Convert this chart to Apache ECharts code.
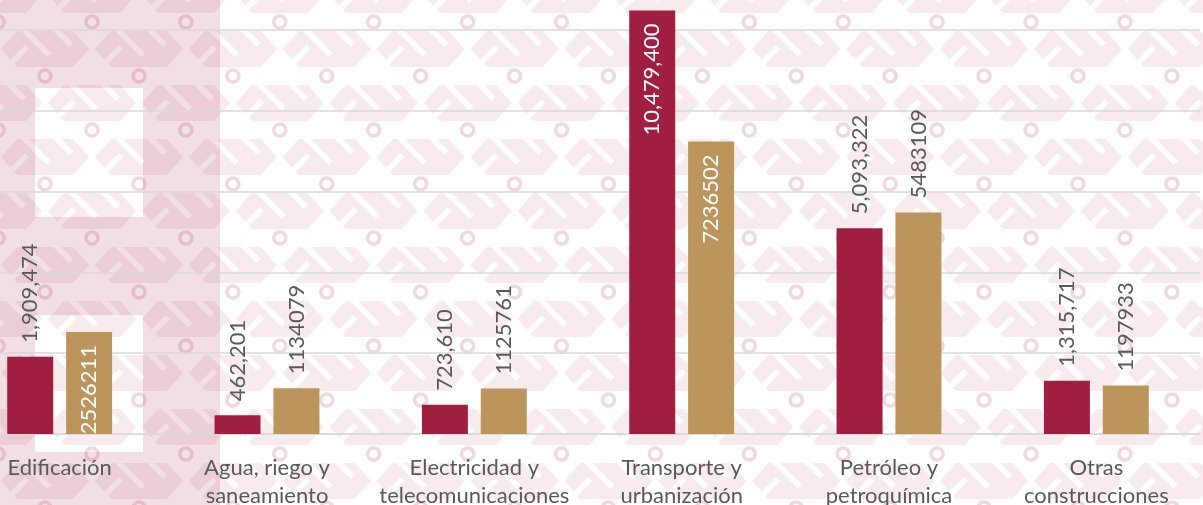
<!DOCTYPE html>
<html>
<head>
<meta charset="utf-8">
<script src="https://cdn.jsdelivr.net/npm/echarts@6/dist/echarts.min.js"></script>
<style>
  html, body { margin: 0; padding: 0; background: #fff; overflow: hidden; }
  #wrap { position: relative; width: 1203px; height: 505px; overflow: hidden; }
  #bg { position: absolute; left: 0; top: 0; }
  /* the chart is cropped on the left and top, like the original picture */
  #chart { position: absolute; left: -44px; top: -51px; width: 1247px; height: 556px; }
</style>
</head>
<body>
<div id="wrap">
  <canvas id="bg" width="1203" height="505"></canvas>
  <div id="chart"></div>
</div>
<script>
// chart data
var categories = [
  "Edificación",
  "Agua, riego y\nsaneamiento",
  "Electricidad y\ntelecomunicaciones",
  "Transporte y\nurbanización",
  "Petróleo y\npetroquímica",
  "Otras\nconstrucciones"
];
var serieGuinda = [1909474, 462201, 723610, 10479400, 5093322, 1315717];
var serieDorada = [2526211, 1134079, 1125761, 7236502, 5483109, 1197933];
// which bars carry their label inside
var guindaInside = ["Transporte y\nurbanización"];
var doradaInside = ["Edificación", "Transporte y\nurbanización"];

var GUINDA = "#A01F40";
var DORADA = "#BC955C";
var TEXT = "#595959";
var FONT = "Lato";

// background: pale greca-like pattern plus a tinted strip on the left
function drawBackground(c) {
  var w = c.width, h = c.height;
  var ctx = c.getContext("2d");
  ctx.fillStyle = "#fff";
  ctx.fillRect(0, 0, w, h);
  var px = 93.9, py = 54, x0 = 92, y0 = 22;
  for (var j = -2; j < 12; j++) {
    var ry = y0 + j * py;
    var off = (j % 2 === 0) ? 0 : -px / 2;
    for (var i = -2; i < 16; i++) {
      var rx = x0 + off + i * px;
      var cy = ry - 27;
      ctx.fillStyle = "#F7EBEE";
      ctx.beginPath();
      ctx.moveTo(rx - 44, cy);
      ctx.lineTo(rx - 28, cy - 18);
      ctx.lineTo(rx + 28, cy - 18);
      ctx.lineTo(rx + 44, cy);
      ctx.lineTo(rx + 28, cy + 18);
      ctx.lineTo(rx - 28, cy + 18);
      ctx.closePath();
      ctx.fill();
      ctx.strokeStyle = "#fff";
      ctx.lineWidth = 6;
      ctx.beginPath();
      ctx.moveTo(rx - 22, cy - 20);
      ctx.lineTo(rx + 4, cy + 6);
      ctx.moveTo(rx + 10, cy - 20);
      ctx.lineTo(rx + 26, cy - 4);
      ctx.moveTo(rx - 40, cy + 20);
      ctx.lineTo(rx - 18, cy - 2);
      ctx.stroke();
      ctx.strokeStyle = "#EFD8DE";
      ctx.lineWidth = 3.5;
      ctx.beginPath();
      ctx.arc(rx, ry, 6, 0, Math.PI * 2);
      ctx.stroke();
    }
  }
  ctx.fillStyle = "rgba(160,31,64,0.14)";
  var strip = [
    [0, 0, 220, 88], [0, 88, 35, 129], [143, 88, 77, 129],
    [0, 217, 220, 98], [0, 315, 35, 137], [143, 315, 77, 137],
    [0, 452, 220, 53]
  ];
  strip.forEach(function (r) { ctx.fillRect(r[0], r[1], r[2], r[3]); });
}
drawBackground(document.getElementById("bg"));

var chartDom = document.getElementById("chart");
var myChart = echarts.init(chartDom);

function fmtComma(v) {
  return v.toString().replace(/\B(?=(\d{3})+(?!\d))/g, ",");
}

var outsideLabel = {
  show: true,
  position: "top",
  rotate: 90,
  align: "left",
  verticalAlign: "middle",
  distance: 14,
  fontFamily: FONT,
  fontSize: 22,
  color: TEXT
};
var insideLabel = {
  position: "insideTop",
  align: "right",
  distance: 13,
  color: "#fff"
};

function buildData(values, insideList) {
  return values.map(function (v, i) {
    if (insideList.indexOf(categories[i]) >= 0) {
      return { value: v, label: insideLabel };
    }
    return v;
  });
}

var option = {
  animation: false,
  backgroundColor: "transparent",
  grid: {
    left: 0, right: 3, top: 0, bottom: 71,
    containLabel: false,
    outerBoundsMode: "none"
  },
  xAxis: {
    type: "category",
    data: categories,
    axisTick: { show: false },
    axisLine: { show: true, lineStyle: { color: "#D9D9D9", width: 1.5 } },
    axisLabel: {
      interval: 0,
      margin: 20,
      fontFamily: FONT,
      fontSize: 22,
      lineHeight: 28,
      color: TEXT
    }
  },
  yAxis: {
    type: "value",
    min: 0,
    max: 12000000,
    interval: 2000000,
    axisLabel: { show: false },
    axisLine: { show: false },
    axisTick: { show: false },
    splitLine: { lineStyle: { color: "#D9D9D9", width: 1.5 } }
  },
  series: [
    {
      name: "Guinda",
      type: "bar",
      barWidth: 46,
      barGap: "28%",
      itemStyle: { color: GUINDA },
      label: Object.assign({}, outsideLabel, { formatter: function (p) { return fmtComma(p.value); } }),
      data: buildData(serieGuinda, guindaInside)
    },
    {
      name: "Dorada",
      type: "bar",
      barWidth: 46,
      itemStyle: { color: DORADA },
      label: Object.assign({}, outsideLabel, { formatter: function (p) { return String(p.value); } }),
      data: buildData(serieDorada, doradaInside)
    }
  ]
};

option && myChart.setOption(option);
</script>
</body>
</html>
